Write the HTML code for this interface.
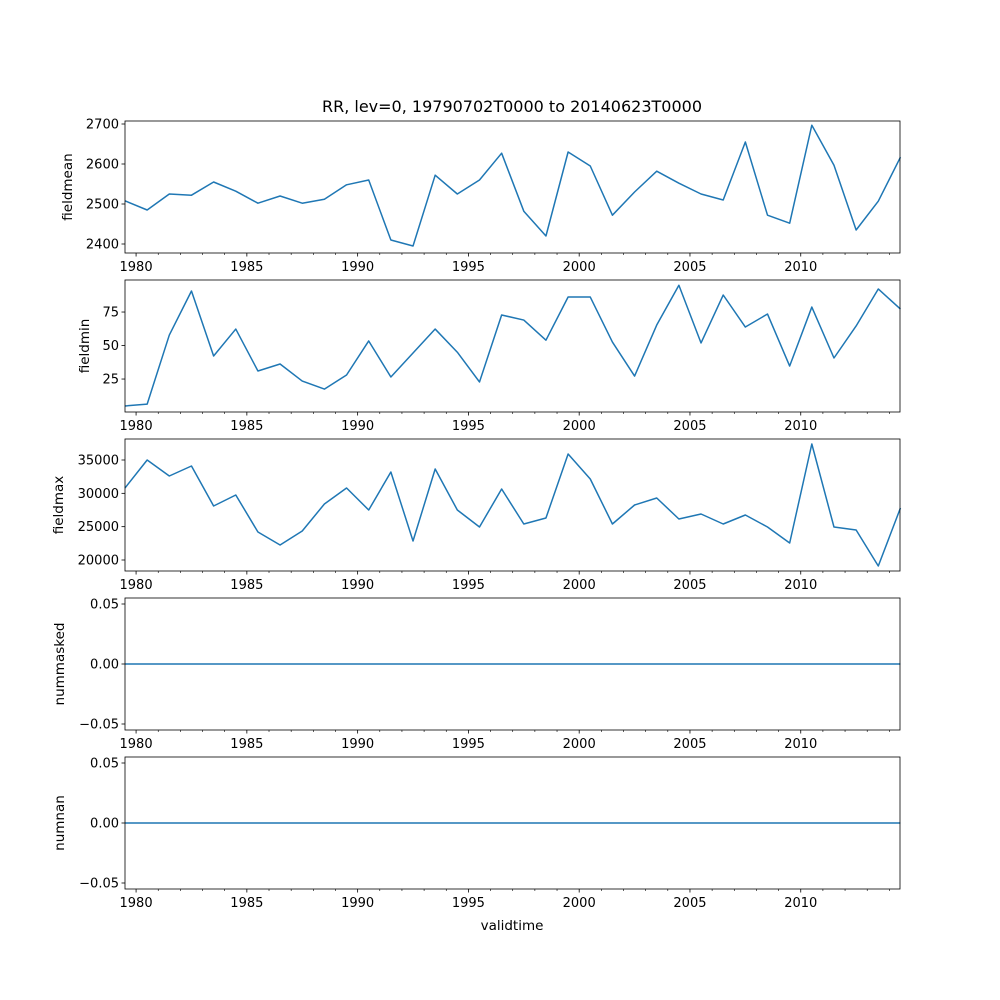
<!DOCTYPE html>
<html><head><meta charset="utf-8"><style>
body{margin:0;background:#fff}
svg{display:block;font-family:"DejaVu Sans","Liberation Sans",sans-serif}
</style></head><body>
<svg id="chart" width="1000" height="1000" viewBox="0 0 1000 1000">
<rect width="1000" height="1000" fill="#fff"/>
<text x="512" y="112" font-size="16" text-anchor="middle">RR, lev=0, 19790702T0000 to 20140623T0000</text>
<text x="512" y="930" font-size="13.5" text-anchor="middle">validtime</text>
</svg>
<script>
const startYear = 1979.5;
const fieldmean = [2508,2485,2525,2522,2555,2532,2502,2520,2502,2512,2548,2560,2410,2395,2572,2525,2560,2627,2482,2420,2630,2595,2472,2530,2582,2552,2525,2510,2655,2472,2452,2697,2597,2435,2507,2617];
const fieldmin = [4.9,6.3,57.8,90.7,42.2,62.3,31,36.2,23.5,17.5,28,53.4,26.5,44.4,62.3,45,22.8,72.8,69,54,86.2,86.2,52.6,27.2,65.3,95,51.9,87.7,63.8,73.5,34.7,78.7,40.7,64.6,92.2,77.2];
const fieldmax = [30800,35000,32600,34100,28100,29750,24200,22250,24350,28400,30800,27500,33200,22850,33650,27500,24950,30650,25400,26300,35900,32150,25400,28250,29300,26150,26900,25400,26750,24950,22550,37400,24950,24500,19100,27800];
const nummasked = new Array(36).fill(0);
const numnan = new Array(36).fill(0);
const xTickLabels = ["1980","1985","1990","1995","2000","2005","2010"];

const svg = document.getElementById('chart');
const NS = 'http://www.w3.org/2000/svg';
const L = 125, R = 900, X0 = 1979.5, X1 = 2014.48;
const xs = yr => L + (yr - X0) / (X1 - X0) * (R - L);
function mk(tag, attrs, parent){const e=document.createElementNS(NS,tag);for(const k in attrs)e.setAttribute(k,attrs[k]);(parent||svg).appendChild(e);return e;}
const fmt2 = v => (v<0?'\u2212':'') + Math.abs(v).toFixed(2);

const panels = [
 {name:'fieldmean', data:fieldmean, top:121, min:2377.5, max:2707.5, ticks:[2400,2500,2600,2700], fmt:v=>String(v), lx:72},
 {name:'fieldmin', data:fieldmin, top:280, min:0.4, max:98.9, ticks:[25,50,75], fmt:v=>String(v), lx:89},
 {name:'fieldmax', data:fieldmax, top:439, min:18350, max:38150, ticks:[20000,25000,30000,35000], fmt:v=>String(v), lx:63},
 {name:'nummasked', data:nummasked, top:598, min:-0.055, max:0.055, ticks:[-0.05,0,0.05], fmt:fmt2, lx:64},
 {name:'numnan', data:numnan, top:757, min:-0.055, max:0.055, ticks:[-0.05,0,0.05], fmt:fmt2, lx:64}
];
const H = 132;
panels.forEach(p=>{
  const g = mk('g',{});
  
  
  const ys = v => p.top + H - (v - p.min)/(p.max - p.min)*H;
  const pts = p.data.map((v,i)=>xs(startYear+i).toFixed(2)+','+ys(v).toFixed(2)).join(' ');
  const line = mk('polyline',{points:pts,fill:'none',stroke:'#1f77b4','stroke-width':1.5,'stroke-linejoin':'round'},g);
  
  
  mk('rect',{x:L,y:p.top,width:R-L,height:H,fill:'none',stroke:'#000','stroke-width':0.8},g);
  p.ticks.forEach(t=>{
    const y = ys(t);
    mk('line',{x1:L-3.5,x2:L,y1:y,y2:y,stroke:'#000','stroke-width':0.8},g);
    const tx = mk('text',{x:L-6,y:y+4.5,'font-size':13,'text-anchor':'end'},g);
    tx.textContent = p.fmt(t);
    
    
  });
  for(let yr=1980; yr<=2014; yr++){
    const x = xs(yr), major = yr%5===0;
    mk('line',{x1:x,x2:x,y1:p.top+H,y2:p.top+H+(major?3.5:2),stroke:'#000','stroke-width':major?0.8:0.6},g);
  }
  xTickLabels.forEach(lbl=>{
    const tx = mk('text',{x:xs(+lbl),y:p.top+H+18,'font-size':13,'text-anchor':'middle'},g);
    tx.textContent = lbl;
    
    
  });
  const yl = mk('text',{x:p.lx,y:p.top+H/2,'font-size':13.5,'text-anchor':'middle',transform:`rotate(-90 ${p.lx} ${p.top+H/2})`},g);
  yl.textContent = p.name;
  
  
});
</script>
</body></html>
